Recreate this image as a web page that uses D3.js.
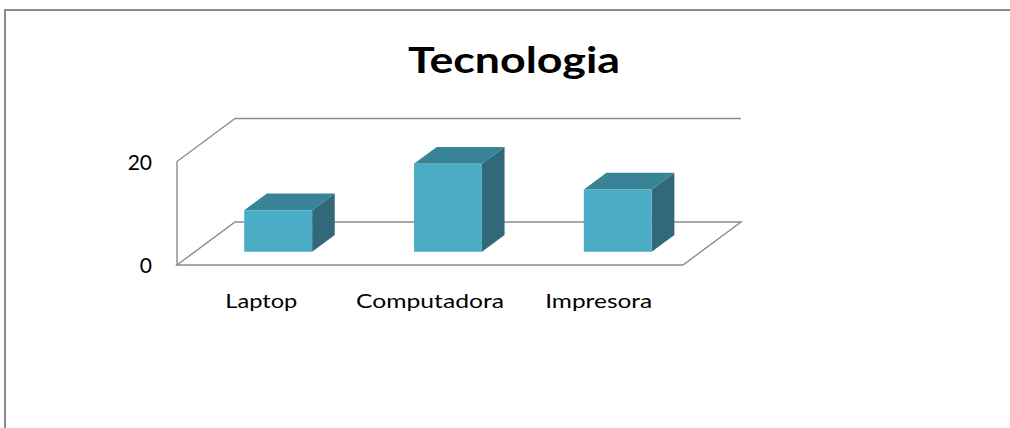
<!DOCTYPE html>
<html>
<head>
<meta charset="utf-8">
<script src="https://cdn.jsdelivr.net/npm/d3@7"></script>
<style>
  html, body { margin: 0; padding: 0; background: #fff; }
  svg { display: block; }
  text { font-family: Lato, "Open Sans", "Liberation Sans", sans-serif; fill: #000; }
</style>
</head>
<body>
<svg id="chart" width="1010" height="428"></svg>
<script>
// ---- data ----
const categories = ["Laptop", "Computadora", "Impresora"];
const values = [8, 17, 12];
const yTicks = [0, 20];
const title = "Tecnologia";

// ---- layout ----
const svg = d3.select("#chart");
const W = 1010, H = 428;
const floorLeft = 177, floorRight = 683, floorFrontY = 265;
const depthDX = 58, depthDY = -43;      // full-depth oblique offset
const barD0 = 0.31, barD1 = 0.70;        // bar depth range (fraction)

const x = d3.scaleBand().domain(categories).range([floorLeft, floorRight])
  .paddingInner(0.6).paddingOuter(0.29);
const xFull = d3.scaleBand().domain(categories).range([floorLeft, floorRight]).padding(0);
const y = d3.scaleLinear().domain([0, 20]).range([floorFrontY, floorFrontY - 103.5]);

// oblique projection: front x, value, depth fraction -> screen point
const P = (xf, v, d) => [xf + d * depthDX, y(v) + d * depthDY];

// outer frame
svg.append("path")
  .attr("d", `M5,${H} V10 H${W}`)
  .attr("fill", "none").attr("stroke", "#8c8c8c").attr("stroke-width", 2);

// title
svg.append("text")
  .attr("x", 514).attr("y", 73)
  .attr("text-anchor", "middle")
  .attr("font-size", 37).attr("font-weight", "bold")
  .attr("textLength", 212).attr("lengthAdjust", "spacingAndGlyphs")
  .text(title);

// walls and floor
const wall = svg.append("g").attr("fill", "none").attr("stroke", "#8c8c8c").attr("stroke-width", 1.4);
const line = d3.line();
const yMax = y.domain()[1], yMin = y.domain()[0];
wall.append("path").attr("d", line([P(floorLeft, yMax, 1), P(floorRight, yMax, 1)]));
wall.append("path").attr("d", line([P(floorLeft, yMin, 0), P(floorLeft, yMax, 0), P(floorLeft, yMax, 1)]));
wall.append("path").attr("d", line([
  P(floorLeft, yMin, 0), P(floorRight, yMin, 0), P(floorRight, yMin, 1), P(floorLeft, yMin, 1)
]) + "Z");

// bars
const bars = svg.append("g").selectAll("g").data(categories.map((c, i) => ({ c, v: values[i] })))
  .join("g");
bars.append("path") // side
  .attr("fill", "#31697a")
  .attr("d", d => {
    const x1 = x(d.c) + x.bandwidth();
    return line([P(x1, 0, barD0), P(x1, d.v, barD0), P(x1, d.v, barD1), P(x1, 0, barD1)]) + "Z";
  });
bars.append("path") // top
  .attr("fill", "#388396")
  .attr("d", d => {
    const x0 = x(d.c), x1 = x0 + x.bandwidth();
    return line([P(x0, d.v, barD0), P(x1, d.v, barD0), P(x1, d.v, barD1), P(x0, d.v, barD1)]) + "Z";
  });
bars.append("path") // front
  .attr("fill", "#4bacc6")
  .attr("d", d => {
    const x0 = x(d.c), x1 = x0 + x.bandwidth();
    return line([P(x0, 0, barD0), P(x1, 0, barD0), P(x1, d.v, barD0), P(x0, d.v, barD0)]) + "Z";
  });

// category labels
const labelWidths = [72, 148, 107];
svg.append("g").selectAll("text").data(categories).join("text")
  .attr("x", d => xFull(d) + xFull.bandwidth() / 2)
  .attr("y", 308)
  .attr("text-anchor", "middle")
  .attr("font-size", 20)
  .attr("textLength", (d, i) => labelWidths[i]).attr("lengthAdjust", "spacingAndGlyphs")
  .text(d => d);

// value axis
const axis = d3.axisLeft(y).tickValues(yTicks).tickSize(0).tickPadding(25).tickFormat(d3.format("d"));
const ax = svg.append("g").attr("transform", `translate(${floorLeft},0)`).call(axis);
ax.select(".domain").remove();
ax.selectAll("text").attr("font-size", 21).attr("font-family", "Lato, 'Open Sans', sans-serif")
  .attr("fill", "#000").attr("dy", "0.36em");
</script>
</body>
</html>
